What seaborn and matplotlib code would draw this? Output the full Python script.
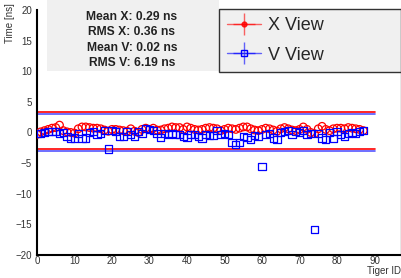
import numpy as np
import matplotlib
matplotlib.use("Agg")
import matplotlib.pyplot as plt
import seaborn as sns
from matplotlib.lines import Line2D
from matplotlib.patches import Rectangle
from matplotlib.ticker import MultipleLocator

# данные
tigerId = list(range(88))
timeX = [-0.3, 0.1, 0.3, 0.5, 0.7, 0.8, 1.2, 0.3, 0.1, 0.0, -0.1, 0.6, 0.9, 0.9, 0.8, 0.7,
         0.7, 0.6, 0.4, 0.2, 0.5, 0.5, 0.4, 0.3, 0.2, 0.6, 0.2, 0.0, 0.5, 0.7, 0.5, 0.7,
         0.4, 0.4, 0.6, 0.7, 0.9, 0.8, 0.8, 0.5, 0.9, 0.7, 0.5, 0.4, 0.5, 0.7, 0.8, 0.7,
         0.6, 0.3, 0.5, 0.7, 0.6, 0.5, 0.7, 0.9, 0.9, 0.6, 0.4, 0.3, 0.5, 0.7, 0.6, 0.4,
         0.2, 0.6, 0.8, 0.6, 0.4, 0.3, 0.5, 0.9, 0.5, 0.0, -0.2, 0.6, 1.0, 0.5, 0.3, 0.6,
         0.7, 0.7, 0.6, 0.8, 0.7, 0.6, 0.5, 0.3]
timeV = [-0.2, -0.1, 0.0, 0.1, 0.2, 0.2, -0.1, 0.0, -0.7, -1.0, -0.9, -0.2, -1.0, -0.9, 0.0, 0.2,
         -0.3, -0.2, 0.3, -2.7, 0.3, 0.2, -0.6, -0.6, 0.1, -0.4, -0.7, 0.2, -0.1, 0.6, 0.5, 0.3,
         -0.1, -0.8, -0.2, -0.4, -0.1, -0.3, -0.4, -0.6, -0.8, -0.4, -0.3, -0.7, -0.9, -0.3, -0.5, -0.5,
         0.3, -0.3, -0.2, -0.4, -1.6, -1.9, -1.7, -0.7, -0.8, -1.2, -0.5, -0.6, -5.6, -0.3, -0.2, -0.9,
         -1.1, 0.0, 0.1, 0.3, -0.4, 0.2, 0.0, 0.3, -0.4, -0.2, -15.8, -0.1, -0.9, -1.2, 0.0, -1.0,
         0.1, -0.3, -0.6, -0.2, 0.0, -0.1, 0.2, 0.3]
meanX, rmsX = 0.29, 0.36
meanV, rmsV = 0.02, 6.19

sns.set_style("white")
plt.rcParams['font.family'] = ['Liberation Sans', 'DejaVu Sans']

fig = plt.figure(figsize=(4.02, 2.78), dpi=100)
ax = fig.add_axes([0.092, 0.083, 0.905, 0.881])

# линии mean +- 3
ax.plot([0, 90], [meanX + 3, meanX + 3], color='red', lw=1.2)
ax.plot([0, 90], [meanX - 3, meanX - 3], color='red', lw=1.2)
ax.plot([0, 90], [meanV + 3, meanV + 3], color='#5555ff', lw=1.2)
ax.plot([0, 90], [meanV - 3, meanV - 3], color='#5555ff', lw=1.2)

sns.scatterplot(x=tigerId, y=timeX, marker='o', s=30, facecolors='none',
                edgecolor='red', linewidth=0.9, ax=ax, zorder=3)
sns.scatterplot(x=tigerId, y=timeV, marker='s', s=26, facecolors='none',
                edgecolor='blue', linewidth=0.9, ax=ax, zorder=4)

ax.set_xlim(0, 97)
ax.set_ylim(-20, 20)
ax.xaxis.set_major_locator(MultipleLocator(10))
ax.xaxis.set_minor_locator(MultipleLocator(2))
ax.yaxis.set_major_locator(MultipleLocator(5))
ax.yaxis.set_minor_locator(MultipleLocator(1))
ax.tick_params(which='both', direction='in', colors='black', labelsize=7,
               labelcolor='#333333', top=False, right=False)
ax.tick_params(which='major', length=7, width=1)
ax.tick_params(which='minor', length=3.5, width=1)
ax.tick_params(axis='x', pad=1)
for s in ['left', 'bottom']:
    ax.spines[s].set_linewidth(1.5)
    ax.spines[s].set_color('black')
ax.spines['top'].set_visible(False)
ax.spines['right'].set_color('#888888')
ax.spines['right'].set_linewidth(1)

fig.text(10 / 402, 1 - 3 / 278, "Time [ns]", rotation=90, ha='center', va='top',
         fontsize=7, color='#333333')
ax.set_xlabel("Tiger ID", fontsize=7, color='#333333', loc='right', labelpad=0)

# блок статистики
fig.patches.append(Rectangle((47 / 402, 1 - 71 / 278), (219 - 47) / 402, 71 / 278,
                             transform=fig.transFigure, facecolor='#f0f0f0',
                             edgecolor='none', zorder=5))
statLines = [f"Mean X: {meanX:.2f} ns", f"RMS X: {rmsX:.2f} ns",
             f"Mean V: {meanV:.2f} ns", f"RMS V: {rmsV:.2f} ns"]
for i, line in enumerate(statLines):
    fig.text(132 / 402, 1 - (17 + 15.5 * i) / 278, line, ha='center', va='center',
             fontsize=8.7, fontweight='bold', color='#222222', zorder=6)

# легенда
hX = (Line2D([], [], color='red', alpha=0.6, lw=1, marker='+', markersize=16, markeredgewidth=1),
      Line2D([], [], color='red', alpha=0.8, lw=0, marker='o', markersize=3.5))
hV = (Line2D([], [], color='blue', alpha=0.6, lw=1, marker='+', markersize=16, markeredgewidth=1),
      Line2D([], [], color='blue', lw=0, marker='s', markersize=4.5, markerfacecolor='none'))
leg = fig.legend([hX, hV], ["X View", "V View"], loc='upper left',
                 bbox_to_anchor=(219 / 402, 1 - 9 / 278, 182 / 402, 0), mode='expand',
                 fontsize=13, frameon=True,
                 fancybox=False, edgecolor='#333333', facecolor='#f0f0f0', framealpha=1,
                 handlelength=1.85, handletextpad=0.4, borderpad=0.45, borderaxespad=0,
                 labelspacing=0.7, numpoints=1)
leg.get_frame().set_linewidth(1)
leg.set_zorder(7)

plt.savefig("out.png", dpi=100)
